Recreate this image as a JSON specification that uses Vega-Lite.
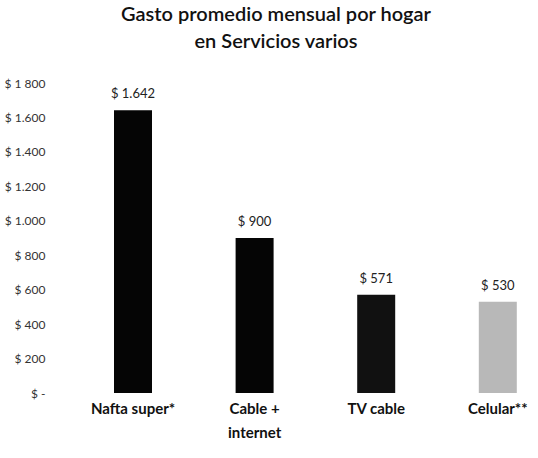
{
  "$schema": "https://vega.github.io/schema/vega-lite/v6.json",
  "autosize": {"type": "none"},
  "width": 480,
  "height": 310,
  "padding": {"left": 55, "right": 3, "top": 83, "bottom": 65},
  "background": "white",
  "config": {"view": {"stroke": null}},
  "title": {
    "text": ["Gasto promedio mensual por hogar", "en Servicios varios"],
    "font": "Lato",
    "fontSize": 20,
    "fontWeight": 600,
    "color": "#111111",
    "anchor": "middle",
    "dx": -19,
    "offset": 25,
    "lineHeight": 27
  },
  "data": {
    "values": [
      {"categoria": "Nafta super*", "gasto": 1642, "etiqueta": "$ 1.642"},
      {"categoria": "Cable + internet", "gasto": 900, "etiqueta": "$ 900"},
      {"categoria": "TV cable", "gasto": 571, "etiqueta": "$ 571"},
      {"categoria": "Celular**", "gasto": 530, "etiqueta": "$ 530"}
    ]
  },
  "encoding": {
    "x": {
      "field": "categoria",
      "type": "nominal",
      "sort": null,
      "scale": {"paddingInner": 0.5, "paddingOuter": 0.2237, "align": 0.875},
      "axis": {
        "title": null,
        "domain": false,
        "ticks": false,
        "labelAngle": 0,
        "labelFont": "Lato",
        "labelFontSize": 15,
        "labelFontWeight": "bold",
        "labelColor": "#111111",
        "labelPadding": 8,
        "labelLineHeight": 24,
        "labelExpr": "datum.value == 'Cable + internet' ? ['Cable +', 'internet'] : datum.value"
      }
    },
    "y": {
      "field": "gasto",
      "type": "quantitative",
      "scale": {"domain": [0, 1800], "nice": false},
      "axis": {
        "title": null,
        "domain": false,
        "ticks": false,
        "grid": false,
        "values": [0, 200, 400, 600, 800, 1000, 1200, 1400, 1600, 1800],
        "labelFont": "Lato",
        "labelFontSize": 12,
        "labelColor": "#333333",
        "labelPadding": 10,
        "labelExpr": "datum.value == 0 ? '$ -  ' : datum.value == 1800 ? '$ 1 800' : datum.value >= 1000 ? '$ ' + floor(datum.value / 1000) + '.' + format(datum.value % 1000, '03d') : '$ ' + datum.value"
      }
    }
  },
  "layer": [
    {
      "mark": {"type": "bar", "width": 38},
      "encoding": {
        "color": {
          "field": "categoria",
          "type": "nominal",
          "sort": null,
          "legend": null,
          "scale": {"domain": ["Nafta super*", "Cable + internet", "TV cable", "Celular**"], "range": ["#050505", "#050505", "#111111", "#b8b8b8"]}
        }
      }
    },
    {
      "mark": {"type": "text", "baseline": "bottom", "dy": -9, "font": "Lato", "fontSize": 13, "color": "#222222"},
      "encoding": {"text": {"field": "etiqueta", "type": "nominal"}}
    }
  ]
}
